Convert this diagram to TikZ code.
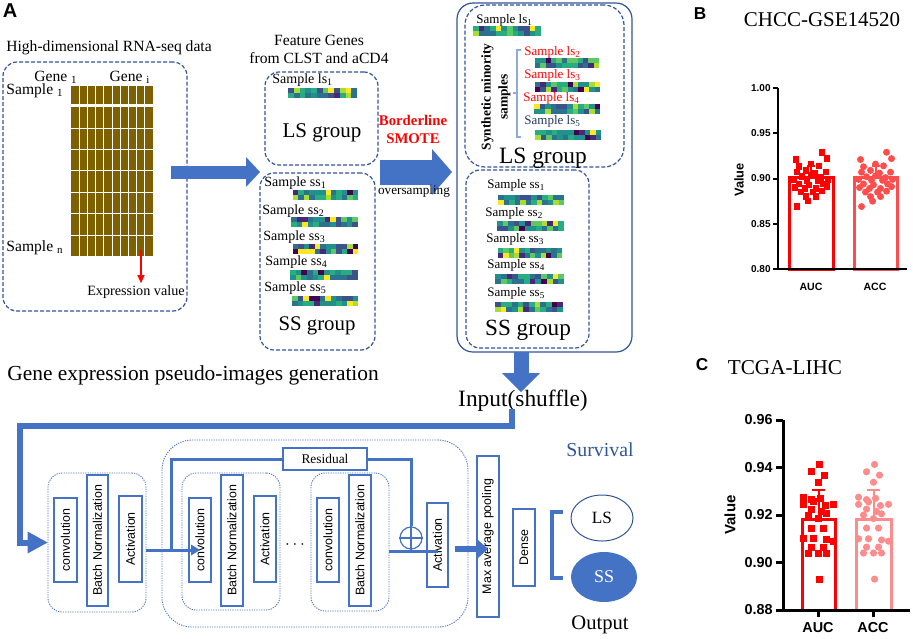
\documentclass[tikz,border=0pt]{standalone}
\usepackage{fontspec}
\setmainfont{Liberation Serif}
\setsansfont{Liberation Sans}
\usetikzlibrary{arrows.meta,positioning,shapes.geometric}

\definecolor{dkblue}{RGB}{47,85,151}
\definecolor{navy}{RGB}{31,56,100}
\definecolor{arrblue}{RGB}{68,114,196}
\definecolor{lightbr}{RGB}{143,170,220}
\definecolor{rawbrown}{RGB}{127,96,0}
\definecolor{accB}{RGB}{255,77,77}
\definecolor{accC}{RGB}{255,140,140}
\definecolor{v0}{RGB}{68,1,84}
\definecolor{v1}{RGB}{72,40,120}
\definecolor{v2}{RGB}{59,82,139}
\definecolor{v3}{RGB}{44,114,142}
\definecolor{v4}{RGB}{33,145,140}
\definecolor{v5}{RGB}{39,173,129}
\definecolor{v6}{RGB}{94,201,98}
\definecolor{v7}{RGB}{170,220,50}
\definecolor{v8}{RGB}{253,231,37}

\newcommand{\fsz}[2]{\fontsize{#1}{#2}\selectfont}
\pgfmathdeclarerandomlist{vir}{{v2}{v3}{v3}{v4}{v4}{v4}{v5}{v5}{v3}{v1}{v0}{v6}{v7}{v8}{v4}{v2}{v6}{v5}}
\newcommand{\hstrip}[3]{%
  \foreach \hr in {0,1}{\foreach \hc in {0,...,11}{%
    \pgfmathrandomitem{\hcol}{vir}%
    \fill[\hcol] ({#1+\hc*#3/12},{#2+\hr*5}) rectangle ++({#3/12+0.4},5.2);}}}
\newcommand{\ptsB}{11/0.929,-15/0.921,16/0.922,0/0.916,-12/0.913,8/0.914,-5/0.909,-14/0.907,4/0.906,15/0.907,-9/0.902,0/0.903,10/0.901,-17/0.899,-4/0.898,7/0.898,17/0.899,-12/0.894,-2/0.893,12/0.894,-16/0.890,-6/0.889,5/0.889,16/0.891,-10/0.885,2/0.885,11/0.886,-5/0.880,5/0.880,-3/0.875,-14/0.869}
\newcommand{\ptsC}{1/0.9413,-7/0.9382,6/0.9368,0/0.9338,-15/0.9275,-7/0.9265,2/0.9270,-15/0.9245,-5/0.9255,7/0.9240,15/0.9245,-7/0.9225,3/0.9215,-10/0.9200,8/0.9205,0/0.9185,-7/0.9145,5/0.9145,-15/0.9100,-5/0.9100,8/0.9095,15/0.9090,-7/0.9065,5/0.9065,-10/0.9040,0/0.9040,8/0.9040,1/0.8930}

\begin{document}
\begin{tikzpicture}[x=0.5pt,y=-0.5pt,
  dashbox/.style={draw=dkblue,line width=0.6pt,dash pattern=on 2pt off 1pt,rounded corners=7pt},
  dotbox/.style={draw=arrblue,line width=0.45pt,dash pattern=on 0.6pt off 0.6pt,rounded corners=7pt},
  lyr/.style={draw=arrblue,line width=0.6pt,fill=white,rotate=90,inner sep=0pt,font=\sffamily\fsz{6.2}{7}},
  txt/.style={inner sep=0pt},
  smp/.style={inner sep=0pt,anchor=west,font=\fsz{7}{8}},
  smpr/.style={inner sep=0pt,anchor=west,font=\fsz{6.5}{7}},
  net/.style={arrblue,line width=1.5pt},
  tick/.style={font=\sffamily\bfseries\fsz{#1}{#1},inner sep=0pt}]

\useasboundingbox (0,0) rectangle (913,638);
\pgfmathsetseed{7}

% raw data
\node[txt,font=\sffamily\bfseries\fsz{10}{12}] (labA) at (10,11) {A};
\node[txt,font=\fsz{7.8}{9}] (rawttl) at (109,48) {High-dimensional RNA-seq data};
\node[dashbox,minimum width=92pt,minimum height=124.5pt] (rawbox) at (95,186.5) {};
\fill[rawbrown] (71,86) rectangle (153,104);
\fill[rawbrown] (71,107) rectangle (153,256);
\foreach \gx in {1,...,9} \draw[white,line width=0.5pt] ({71+\gx*8.2},86) -- ({71+\gx*8.2},256);
\foreach \gy in {128,149,170,192,213,235} \draw[white,line width=0.5pt] (71,\gy) -- (153,\gy);
\node[txt,font=\fsz{7.8}{9}] (gene1) at (56,77) {Gene \textsubscript{1}};
\node[txt,font=\fsz{7.8}{9}] (genei) at (130,77) {Gene \textsubscript{i}};
\node[txt,anchor=west,font=\fsz{7.8}{9}] (smp1) at (6,91) {Sample \textsubscript{1}};
\node[txt,anchor=west,font=\fsz{7.8}{9}] (smpn) at (6,248) {Sample \textsubscript{n}};
\node[txt,font=\fsz{7.1}{8}] (exprval) at (136,292) {Expression value};
\coordinate (exprpt) at (141,250);
\draw[red,line width=0.6pt,-{Triangle[length=4pt,width=3.5pt]}] (exprpt) -- ([yshift=1pt]exprpt |- exprval.north);

\coordinate (a1s) at (171,172);
\coordinate (a1e) at (260,172);
\draw[arrblue,line width=6.5pt,-{Triangle[length=7pt,width=15pt,line width=0pt]}] (a1s) -- (a1e);

% feature genes
\node[txt,font=\fsz{7.8}{9},align=center] (feat) at (319,49) {Feature Genes\\from CLST and aCD4};
\node[dashbox,minimum width=56.5pt,minimum height=46.5pt] (lsbox) at (321.5,118.5) {};
\node[smp] (lsm1) at (272,80) {Sample ls\textsubscript{1}};
\hstrip{288}{88}{69}
\node[txt,font=\fsz{10.5}{12}] (lsgm) at (322,133) {LS group};
\node[dashbox,minimum width=57.5pt,minimum height=88.5pt] (ssbox) at (317.5,261.5) {};
\node[smp] (ssm1) at (264,183) {Sample ss\textsubscript{1}};
\node[smp] (ssm2) at (262,211) {Sample ss\textsubscript{2}};
\node[smp] (ssm3) at (263,237) {Sample ss\textsubscript{3}};
\node[smp] (ssm4) at (265,262) {Sample ss\textsubscript{4}};
\node[smp] (ssm5) at (264,288) {Sample ss\textsubscript{5}};
\hstrip{293}{190}{65}
\hstrip{291}{217}{67}
\hstrip{293}{244}{65}
\hstrip{290}{270}{68}
\hstrip{292}{296}{66}
\node[txt,font=\fsz{10.4}{12}] (ssgm) at (317,326) {SS group};

\node[txt,text=red,font=\bfseries\fsz{7.4}{9},align=center] (smote) at (413,129) {Borderline\\SMOTE};
\coordinate (a2s) at (380,172);
\coordinate (a2e) at (452,172);
\draw[arrblue,line width=12.5pt,-{Triangle[length=10pt,width=23pt,line width=0pt]}] (a2s) -- (a2e);
\node[txt,font=\fsz{6.6}{8}] (overs) at (414,191) {oversampling};

% after oversampling
\node[draw=dkblue,line width=0.6pt,rounded corners=8pt,minimum width=87.5pt,minimum height=174.5pt] (outer) at (544.5,177.5) {};
\node[dashbox,rounded corners=10pt,minimum width=79.5pt,minimum height=81pt] (lsbig) at (544.5,86) {};
\node[smpr] (lsr1) at (476,20) {Sample ls\textsubscript{1}};
\hstrip{473}{26}{68}
\node[txt,rotate=90,font=\bfseries\fsz{6.7}{8.5},align=center] (synth) at (496,97) {Synthetic minority\\samples};
\draw[lightbr,line width=0.6pt] (521,50) -- (517,50) -- (517,137) -- (521,137);
\draw[lightbr,line width=0.6pt] (517,93) -- (513,93);
\node[smpr,text=red] (lsr2) at (524,52) {Sample ls\textsubscript{2}};
\hstrip{535}{58}{64}
\node[smpr,text=red] (lsr3) at (524,75) {Sample ls\textsubscript{3}};
\hstrip{535}{82}{65}
\node[smpr,text=red] (lsr4) at (523,98) {Sample ls\textsubscript{4}};
\hstrip{534}{104}{66}
\node[smpr,text=navy] (lsr5) at (524,121) {Sample ls\textsubscript{5}};
\hstrip{535}{130}{66}
\node[txt,font=\fsz{11.7}{13}] (lsgr) at (543,158) {LS group};
\node[dashbox,rounded corners=7pt,minimum width=61.5pt,minimum height=89pt] (ssbig) at (527.5,259) {};
\node[smpr] (ssr1) at (487,185) {Sample ss\textsubscript{1}};
\node[smpr] (ssr2) at (485,213) {Sample ss\textsubscript{2}};
\node[smpr] (ssr3) at (486,239) {Sample ss\textsubscript{3}};
\node[smpr] (ssr4) at (487,265) {Sample ss\textsubscript{4}};
\node[smpr] (ssr5) at (487,293) {Sample ss\textsubscript{5}};
\hstrip{498}{195}{66}
\hstrip{497}{221}{67}
\hstrip{498}{248}{64}
\hstrip{495}{274}{69}
\hstrip{495}{302}{68}
\node[txt,font=\fsz{11.6}{13}] (ssgr) at (528,330) {SS group};

\coordinate (a3s) at (521,352);
\coordinate (a3e) at (521,392);
\draw[arrblue,line width=7.5pt,-{Triangle[length=9.5pt,width=19pt,line width=0pt]}] (a3s) -- (a3e);
\node[txt,font=\fsz{11.7}{13}] (input) at (523,401) {Input(shuffle)};
\node[txt,anchor=west,font=\fsz{10.7}{12}] (gen) at (7,375) {Gene expression pseudo-images generation};

% network
\node[dotbox,minimum width=49pt,minimum height=69.5pt] (block1) at (97,542.5) {};
\node[lyr,minimum width=42pt,minimum height=11.5pt] (b1conv) at (65.5,540) {convolution};
\node[lyr,minimum width=65.5pt,minimum height=10.5pt] (b1bn) at (97.5,540.5) {Batch Normalization};
\node[lyr,minimum width=43pt,minimum height=11.5pt] (b1act) at (130.5,539) {Activation};

\coordinate (fbst) at (512,409);
\draw[arrblue,line width=3pt,-{Triangle[length=10pt,width=11pt,line width=0pt]}] (fbst) |- (20,426) |- (block1.west);

\node[dotbox,rounded corners=15pt,minimum width=153pt,minimum height=93.5pt] (bigblock) at (315,533.5) {};
\node[dotbox,minimum width=49pt,minimum height=68.5pt] (blockA) at (231,541.5) {};
\node[lyr,minimum width=42pt,minimum height=11pt] (aconv) at (200,540) {convolution};
\node[lyr,minimum width=65.5pt,minimum height=11pt] (abn) at (232,540.5) {Batch Normalization};
\node[lyr,minimum width=43pt,minimum height=11pt] (aact) at (265,539) {Activation};
\node[txt,font=\fsz{8}{9}] (dots) at (295,545) {$\cdots$};
\node[dotbox,minimum width=39pt,minimum height=69pt] (blockB) at (350,542) {};
\node[lyr,minimum width=42pt,minimum height=11pt] (bconv) at (328,540) {convolution};
\node[lyr,minimum width=65.5pt,minimum height=11pt] (bbn) at (360,540.5) {Batch Normalization};

\coordinate (j1) at (146,550);
\coordinate (rbr) at (171,550);
\draw[net,-{Triangle[length=4.5pt,width=5.5pt,line width=0pt]}] (j1) -- (aconv.west |- j1);
\node[draw=arrblue,line width=0.6pt,fill=white,minimum width=42pt,minimum height=11pt,inner sep=0pt,font=\fsz{6.7}{8}] (res) at (325,459) {Residual};
\draw[net] (rbr) |- (res.west);
\node[circle,draw=arrblue,line width=0.6pt,minimum size=11pt,inner sep=0pt] (oplus) at (411,538) {};
\draw[arrblue,line width=0.6pt] (oplus.north) -- (oplus.south) (oplus.west) -- (oplus.east);
\draw[net] (res.east) -| (oplus.north);
\node[lyr,minimum width=42pt,minimum height=10.5pt] (cact) at (437.5,545) {Activation};
\coordinate (j2) at (389,551);
\draw[net] (j2) -- (cact.west |- j2);

\node[lyr,minimum width=80.5pt,minimum height=11pt] (pool) at (488,536.5) {Max average pooling};
\node[lyr,minimum width=38.5pt,minimum height=11pt] (dense) at (524,547.5) {Dense};
\coordinate (j3) at (455,549);
\draw[arrblue,line width=3pt,-{Triangle[length=5pt,width=9pt,line width=0pt]}] (j3) -- (pool.west |- j3);

\draw[arrblue,line width=2pt] (563,512) -- (552,512) -- (552,578) -- (563,578);
\node[ellipse,draw=dkblue,line width=0.5pt,minimum width=31pt,minimum height=23pt,inner sep=0pt,font=\fsz{8.6}{10}] (lsout) at (602,518) {LS};
\node[ellipse,fill=arrblue,minimum width=33pt,minimum height=25pt,inner sep=0pt,text=white,font=\fsz{9}{10}] (ssout) at (604,577) {SS};
\node[txt,text=dkblue,font=\fsz{9.9}{11}] (surv) at (600,450) {Survival};
\node[txt,font=\fsz{10.3}{12}] (outp) at (600,625) {Output};

% B
\node[txt,font=\sffamily\bfseries\fsz{8.6}{10}] (labB) at (700,14) {B};
\node[txt,font=\fsz{10.5}{12}] (ttlB) at (822,20) {CHCC-GSE14520};
\draw[red,line width=1.5pt,fill=white] (789,269) rectangle (833,177);
\draw[accB,line width=1.5pt,fill=white] (854,269) rectangle (897,177);
\foreach \dx/\tv in \ptsB {
  \fill[red] ({811+\dx-3.3},{269-(\tv-0.8)*905-3.3}) rectangle ++(6.6,6.6);
  \fill[accB] ({875.5+\dx},{269-(\tv-0.8)*905}) circle (3.5);
}
\draw[red,line width=1pt] (811,177) -- (811,166) (807,166) -- (815,166);
\draw[accB,line width=1pt] (875.5,177) -- (875.5,166) (871.5,166) -- (879.5,166);
\draw[line width=1pt] (778,88) -- (778,269) -- (907,269);
\foreach \tv/\tn in {1.00/0,0.95/1,0.90/2,0.85/3,0.80/4} {
  \draw[line width=1pt] (773,{269-(\tv-0.8)*905}) -- (778,{269-(\tv-0.8)*905});
  \node[tick=5,anchor=east] (tkB\tn) at (771,{269-(\tv-0.8)*905}) {\tv};
}
\node[tick=6.4,rotate=90] (valB) at (739,180) {Value};
\node[tick=5.3] (xlB1) at (811,287) {AUC};
\node[tick=5.3] (xlB2) at (875,287) {ACC};

% C
\node[txt,font=\sffamily\bfseries\fsz{8.6}{10}] (labC) at (702,365) {C};
\node[txt,font=\fsz{10.6}{12}] (ttlC) at (785,368) {TCGA-LIHC};
\draw[red,line width=1.5pt,fill=white] (802,610) rectangle (835,519);
\draw[accC,line width=1.5pt,fill=white] (856,610) rectangle (891,519);
\foreach \dx/\tv in \ptsC {
  \fill[red] ({818.5+\dx-3.5},{610-(\tv-0.88)*2375-3.5}) rectangle ++(7,7);
  \fill[accC] ({873.5+\dx},{610-(\tv-0.88)*2375}) circle (3.6);
}
\draw[red,line width=1pt] (818.5,519) -- (818.5,490) (812,490) -- (825,490);
\draw[accC,line width=1pt] (873.5,519) -- (873.5,490) (867,490) -- (880,490);
\draw[line width=1.5pt] (783,420) -- (783,610) -- (910,610);
\foreach \tv/\tn in {0.96/0,0.94/1,0.92/2,0.90/3,0.88/4} {
  \draw[line width=1.5pt] (776,{610-(\tv-0.88)*2375}) -- (783,{610-(\tv-0.88)*2375});
  \node[tick=7.2,anchor=east] (tkC\tn) at (773,{610-(\tv-0.88)*2375}) {\tv};
}
\draw[line width=1.5pt] (818.5,610) -- (818.5,617) (873.5,610) -- (873.5,617);
\node[tick=7.5,rotate=90] (valC) at (730,515) {Value};
\node[tick=7.2] (xlC1) at (818,628) {AUC};
\node[tick=7.2] (xlC2) at (873,628) {ACC};
\end{tikzpicture}
\end{document}
